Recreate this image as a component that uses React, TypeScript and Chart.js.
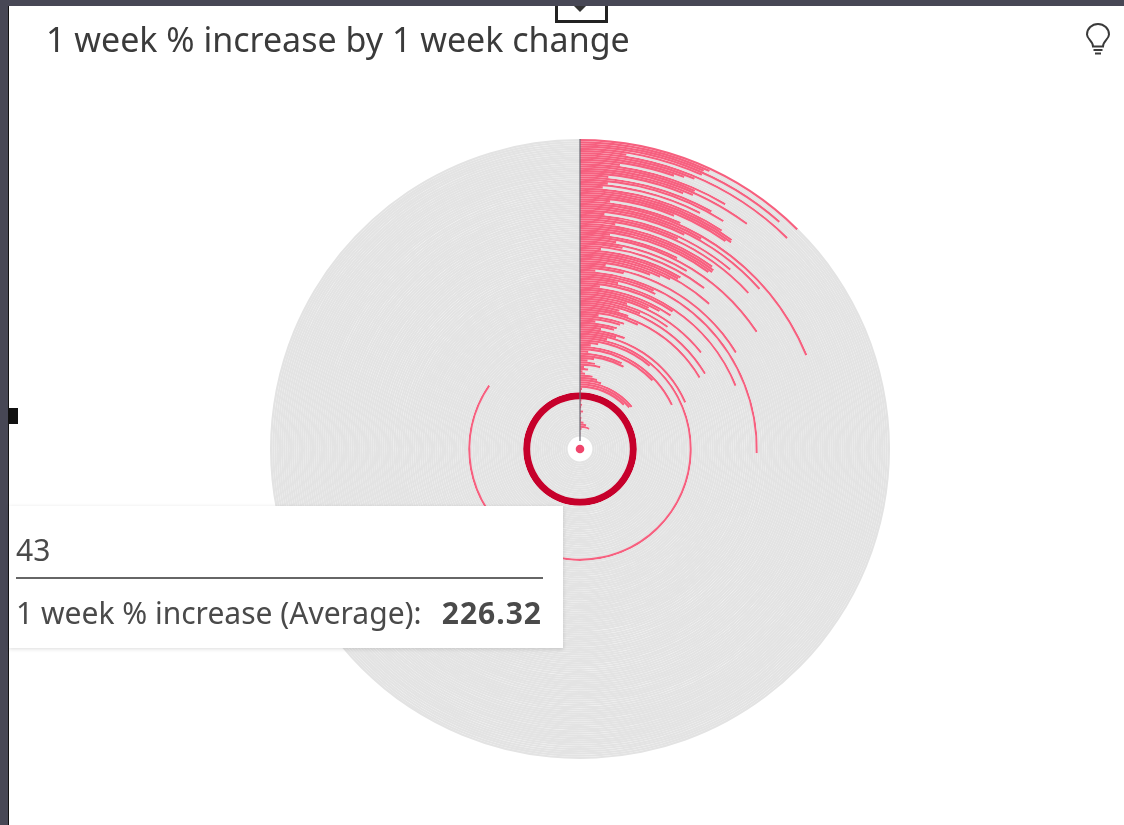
import React, { useEffect, useRef } from "react";
import { Chart, registerables } from "chart.js";

Chart.register(...registerables);

const chartTitle = "1 week % increase by 1 week change";
const tooltipCategory = "43";
const tooltipLabel = "1 week % increase (Average):";
const tooltipValue = "226.32";

// Sweep of every ring in degrees, outermost ring first.
const outerRings = [
  44.7, 25, 24, 41.3, 24, 9, 44.5, 23, 21, 19,
  8, 30.7, 24, 36.6, 24, 22, 6, 29, 32.2, 6,
  27, 5, 33, 36, 36.2, 35, 22, 7, 24, 67.5,
  30, 48.3, 26, 6, 40, 25, 47.2, 9, 36, 36.8,
  36.8, 36, 8, 27, 56.5, 10, 31, 12, 37.7, 6,
  30.4, 30, 41.7, 28, 25, 22, 8, 58.3, 14, 5,
  91.4, 25, 26, 13, 67.9, 34, 7, 34.2, 30, 26,
  51.5, 18, 35.7, 24, 59, 16, 20, 59.2, 25, 8,
  19.5, 18, 7, 17, 16, 10, 22, 18, 66.2, 14,
  305, 40, 10, 6, 64.5, 46.7, 5, 26, 28, 9,
  5, 10, 14, 3, 6, 2, 4, 10, 14, 18,
  51, 50, 45, 2, 1,
];
const selectedRing = [360];
const innerRings = [2, 1, 3, 2, 1, 5, 2, 1, 3, 2, 8, 15, 25, 5, 1, 2, 1];

const PINK = "#f6607f";
const GREY = "#e3e3e3";
const SELECTED = "#c6002b";
const FRAME = "#474755";

const ringDataset = (sweep: number, color: string, weight = 1) => ({
  data: [sweep, 360 - sweep],
  backgroundColor: [color, GREY],
  borderWidth: 0,
  weight,
});

const hubPlugin = {
  id: "hub",
  afterDatasetsDraw(chart: any) {
    const arc = chart.getDatasetMeta(0).data[0];
    const { x, y, outerRadius } = arc;
    const ctx = chart.ctx;
    ctx.save();
    ctx.strokeStyle = "rgba(105,105,115,0.8)";
    ctx.lineWidth = 1.5;
    ctx.beginPath();
    ctx.moveTo(x, y - outerRadius);
    ctx.lineTo(x, y - 8);
    ctx.stroke();
    ctx.fillStyle = "#ffffff";
    ctx.beginPath();
    ctx.arc(x, y, 7, 0, Math.PI * 2);
    ctx.fill();
    ctx.fillStyle = "#f0456c";
    ctx.beginPath();
    ctx.arc(x, y, 4.3, 0, Math.PI * 2);
    ctx.fill();
    ctx.restore();
  },
};

const FONT = '"Noto Sans", Roboto, sans-serif';

export default function App() {
  const ref = useRef<HTMLCanvasElement>(null);

  useEffect(() => {
    const chart = new Chart(ref.current!, {
      type: "doughnut",
      data: {
        datasets: [
          ...outerRings.map((v) => ringDataset(v, PINK)),
          ...selectedRing.map((v) => ringDataset(v, SELECTED, 3.2)),
          ...innerRings.map((v) => ringDataset(v, PINK)),
        ],
      },
      options: {
        responsive: false,
        animation: false,
        cutout: 12.4,
        events: [],
        layout: { padding: { left: 270, right: 234, top: 139, bottom: 66 } },
        plugins: { legend: { display: false }, tooltip: { enabled: false } },
      },
      plugins: [hubPlugin],
    } as any);
    return () => chart.destroy();
  }, []);

  return (
    <div style={{ position: "fixed", left: 0, top: 0, width: 1124, height: 825, background: "#fff", overflow: "hidden", fontFamily: FONT }}>
      <canvas ref={ref} width={1124} height={825} style={{ position: "absolute", left: 0, top: 0, filter: "blur(0.6px)" }} />
      <div style={{ position: "absolute", left: 555, top: 0, width: 47, height: 20, border: "3px solid #222", borderTop: "none", background: "#fff" }} />
      <svg style={{ position: "absolute", left: 573, top: 5 }} width="14" height="7" viewBox="0 0 14 7">
        <path d="M0 0 H14 L7 7 Z" fill="#333" />
      </svg>
      <div style={{ position: "absolute", left: 0, top: 0, width: 1124, height: 6, background: FRAME }} />
      <div style={{ position: "absolute", left: 0, top: 0, width: 8, height: 825, background: FRAME }} />
      <div style={{ position: "absolute", left: 8, top: 6, width: 1, height: 819, background: "#111" }} />
      <div style={{ position: "absolute", left: 9, top: 408, width: 9, height: 16, background: "#111" }} />
      <div style={{ position: "absolute", left: 46, top: 17, fontSize: 34, lineHeight: "44px", color: "#3b3b3b", whiteSpace: "nowrap" }}>{chartTitle}</div>
      <svg style={{ position: "absolute", left: 1084, top: 23 }} width="28" height="33" viewBox="0 0 28 33" fill="none" stroke="#3a3a3a" strokeWidth="2">
        <path d="M9 23.5 C9 18 3 16 3 11.5 A11 10.5 0 0 1 25 11.5 C25 16 19 18 19 23.5 Z" />
        <path d="M9.5 27 H18.5 M11 30.5 H17" />
      </svg>
      <div style={{ position: "absolute", left: 9, top: 506, width: 554, height: 142, background: "#fff", boxShadow: "0 1px 4px rgba(0,0,0,0.14)", color: "#4a4a4a" }}>
        <div style={{ position: "absolute", left: 7, top: 24, fontSize: 30, lineHeight: "40px" }}>{tooltipCategory}</div>
        <div style={{ position: "absolute", left: 7, top: 71, width: 527, height: 2, background: "#666" }} />
        <div style={{ position: "absolute", left: 7, top: 87, fontSize: 30, lineHeight: "40px", whiteSpace: "nowrap" }}>{tooltipLabel}</div>
        <div style={{ position: "absolute", right: 21, top: 87, fontSize: 30, lineHeight: "40px", fontWeight: 700, letterSpacing: 1 }}>{tooltipValue}</div>
      </div>
    </div>
  );
}
